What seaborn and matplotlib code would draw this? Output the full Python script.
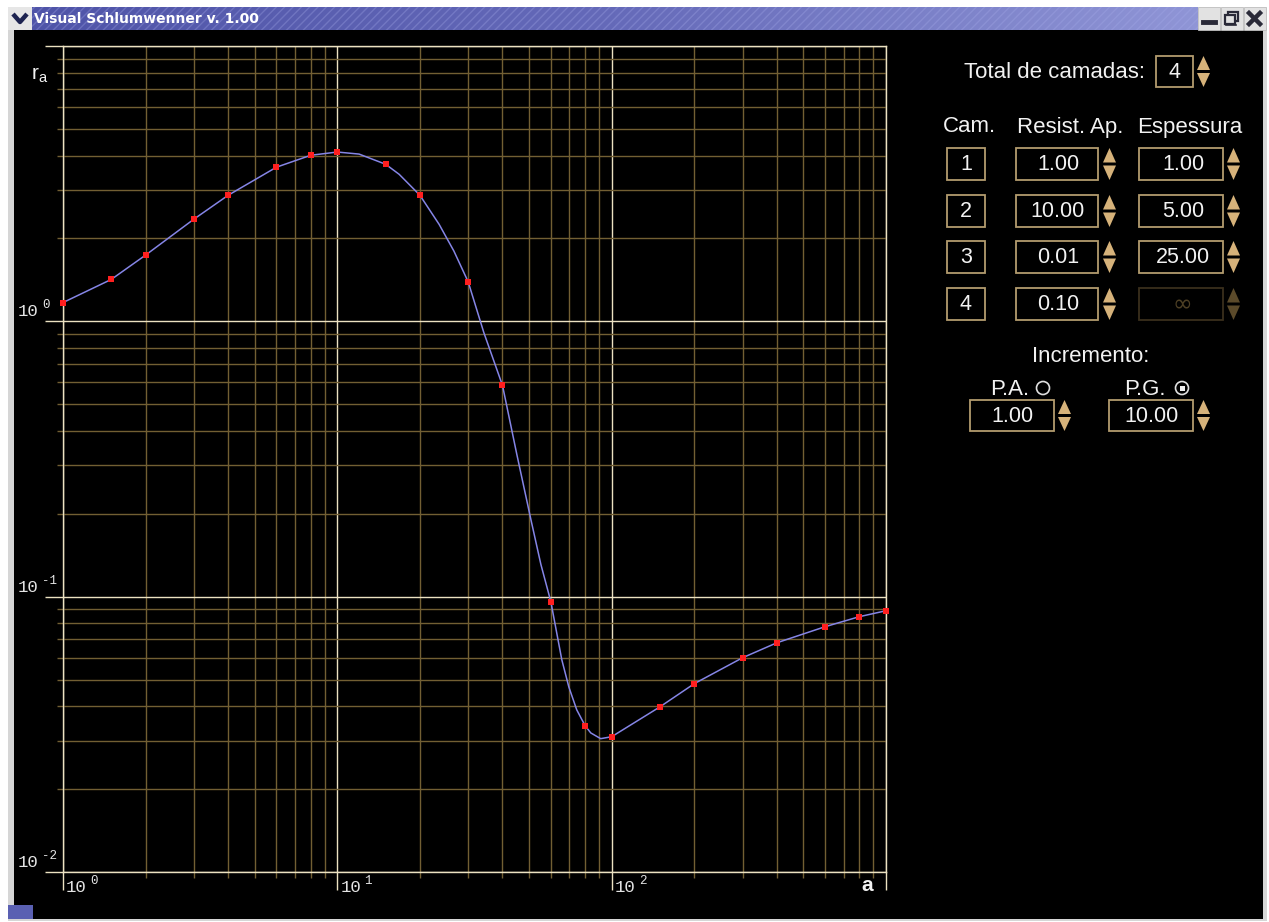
import numpy as np
import matplotlib
matplotlib.use("Agg")
import matplotlib.pyplot as plt
import seaborn as sns
from matplotlib.patches import Rectangle, Polygon, Circle
from matplotlib.ticker import LogLocator, NullFormatter
from matplotlib.colors import LinearSegmentedColormap

# ---------------- data ----------------
a_points = [1, 1.5, 2, 3, 4, 6, 8, 10, 15, 20, 30, 40, 60, 80, 100,
            150, 200, 300, 400, 600, 800, 1000]
ra_points = [1.17, 1.42, 1.74, 2.35, 2.87, 3.63, 4.01, 4.12, 3.72, 2.87,
             1.39, 0.585, 0.096, 0.034, 0.031, 0.0398, 0.0483, 0.060,
             0.068, 0.0778, 0.0846, 0.0889]

curve_a = [1, 1.5, 2, 3, 4, 6, 8, 10, 12.0, 15, 16.8, 20, 23.5, 26.6, 30,
           34.2, 40, 45.1, 50.8, 55.2, 60, 65.8, 69.8, 74.6, 80, 83.9, 91.2,
           100, 150, 200, 300, 400, 600, 800, 1000]
curve_ra = [1.17, 1.42, 1.74, 2.35, 2.87, 3.63, 4.01, 4.12, 4.05, 3.72, 3.42,
            2.87, 2.25, 1.80, 1.39, 0.91, 0.585, 0.329, 0.19, 0.131, 0.096,
            0.059, 0.047, 0.0388, 0.034, 0.032, 0.0305, 0.031, 0.0398,
            0.0483, 0.060, 0.068, 0.0778, 0.0846, 0.0889]

x_tick_values = [1, 10, 100]
x_tick_exps = ["0", "1", "2"]
y_tick_values = [1, 0.1, 0.01]
y_tick_exps = ["0", "-1", "-2"]
tick_base = "10"

window_title = "Visual Schlumwenner v. 1.00"
total_label = "Total de camadas:"
total_layers = "4"
headers = ["Cam.", "Resist. Ap.", "Espessura"]
layers = ["1", "2", "3", "4"]
resist = ["1.00", "10.00", "0.01", "0.10"]
espessura = ["1.00", "5.00", "25.00", "\u221e"]
inc_label = "Incremento:"
inc_pa_label = "P.A."
inc_pg_label = "P.G."
inc_pa = "1.00"
inc_pg = "10.00"

# ---------------- colours ----------------
MAJOR = "#ece2c2"
MINOR = "#725f33"
CURVE = "#8585e6"
POINT = "#ff1f1f"
BOX_EDGE = "#b39c6e"
SPIN = "#d6b27a"
DIM_EDGE = "#3a2f1c"
DIM_SPIN = "#5b4a2a"
TXT = "#f2f2f2"
TICKTXT = "#e4e4e4"
MONO = "Liberation Mono"

W, H = 1269, 922
fig = plt.figure(figsize=(W / 100, H / 100), dpi=100, facecolor="white")

# background / window chrome axes in pixel coordinates (origin top-left)
bg = fig.add_axes([0, 0, 1, 1])
bg.set_xlim(0, W)
bg.set_ylim(H, 0)
bg.axis("off")
bg.set_zorder(0)

bg.add_patch(Rectangle((8, 28), 1259, 893, fc="#d6d6d6", ec="none"))
bg.add_patch(Rectangle((14, 30), 1249, 889, fc="black", ec="none"))
bg.add_patch(Rectangle((8, 905), 25, 14, fc="#5a60b2", ec="none"))

# title bar gradient
cmap = LinearSegmentedColormap.from_list("tb", ["#4f54a8", "#656ab9", "#8f95d6"])
grad = np.linspace(0, 1, 256).reshape(1, -1)
bg.imshow(grad, extent=[32, 1198, 30, 7], cmap=cmap, aspect="auto", zorder=1)
bg.add_patch(Rectangle((32, 7), 1166, 23, fc="none", ec="#a7acea", lw=0,
                       hatch="////", alpha=0.3, zorder=2))
bg.set_xlim(0, W)
bg.set_ylim(H, 0)
bg.text(34, 19, window_title, color="white", fontsize=10, fontweight="bold",
        family="DejaVu Sans", ha="left", va="center", zorder=3)

# icon box (chevron)
bg.add_patch(Rectangle((8, 7), 24, 23, fc="#e6e6e6", ec="none", zorder=2))
bg.plot([13, 20, 27], [14, 22, 14], color="#1d2350", lw=3.2,
        solid_capstyle="butt", zorder=3)

# right buttons
for bx in (1198, 1221, 1244):
    bg.add_patch(Rectangle((bx, 7), 22, 23, fc="#e2e2e2", ec="#bdbdbd",
                           lw=0.6, zorder=2))
bg.plot([1203, 1215], [22, 22], color="#2a2a38", lw=3.5, zorder=3)
bg.add_patch(Rectangle((1228, 12), 10, 9, fc="none", ec="#2a2a38", lw=1.6, zorder=3))
bg.add_patch(Rectangle((1225, 15), 10, 9, fc="#e2e2e2", ec="#2a2a38", lw=1.6, zorder=4))
bg.plot([1226, 1236], [25, 25], color="#2a2a38", lw=1.2, zorder=4)
bg.plot([1249, 1260], [13, 24], color="#2a2a38", lw=3.2, zorder=3)
bg.plot([1249, 1260], [24, 13], color="#2a2a38", lw=3.2, zorder=3)

# ---------------- chart ----------------
ax = fig.add_axes([63 / W, (H - 872) / H, (886 - 63) / W, (872 - 46) / H])
ax.set_zorder(2)
ax.set_facecolor("black")
ax.set_xscale("log")
ax.set_yscale("log")
ax.set_xlim(1, 1000)
ax.set_ylim(0.01, 10)
ax.xaxis.set_minor_locator(LogLocator(base=10, subs=range(2, 10), numticks=20))
ax.yaxis.set_minor_locator(LogLocator(base=10, subs=range(2, 10), numticks=20))
ax.xaxis.set_minor_formatter(NullFormatter())
ax.yaxis.set_minor_formatter(NullFormatter())
ax.grid(True, which="minor", color=MINOR, lw=1)
ax.grid(True, which="major", color=MAJOR, lw=1)
ax.set_axisbelow(True)
ax.tick_params(which="major", direction="out", length=13, width=1, color=MAJOR,
               labelleft=False, labelbottom=False)
ax.tick_params(which="minor", direction="out", length=4, width=1, color=MINOR)
for sp in ax.spines.values():
    sp.set_color(MAJOR)
    sp.set_linewidth(1)

sns.lineplot(x=curve_a, y=curve_ra, ax=ax, color=CURVE, lw=1.1,
             estimator=None, sort=False, zorder=3)
sns.scatterplot(x=a_points, y=ra_points, ax=ax, color=POINT, marker="s",
                s=20, linewidth=0, zorder=4, clip_on=False)
ax.set_xlabel("")
ax.set_ylabel("")

# tick labels: "10" with a raised exponent, monospace
for v, e in zip(x_tick_values, x_tick_exps):
    ax.annotate(tick_base, xy=(v, 0), xycoords=("data", "axes fraction"),
                xytext=(3, -20), textcoords="offset pixels", ha="left",
                va="baseline", color=TICKTXT, fontsize=12.5, family=MONO,
                annotation_clip=False)
    ax.annotate(e, xy=(v, 0), xycoords=("data", "axes fraction"),
                xytext=(27, -12), textcoords="offset pixels", ha="left",
                va="baseline", color=TICKTXT, fontsize=9, family=MONO,
                annotation_clip=False)
for v, e in zip(y_tick_values, y_tick_exps):
    ax.annotate(tick_base, xy=(18, v), xycoords=("figure pixels", "data"),
                xytext=(0, 5), textcoords="offset pixels", ha="left",
                va="baseline", color=TICKTXT, fontsize=12.5, family=MONO,
                annotation_clip=False)
    ax.annotate(e, xy=(18, v), xycoords=("figure pixels", "data"),
                xytext=(24, 13), textcoords="offset pixels", ha="left",
                va="baseline", color=TICKTXT, fontsize=9, family=MONO,
                annotation_clip=False)

bg.text(31, 80, r"$\mathregular{r_a}$", color=TXT, fontsize=15,
        ha="left", va="baseline", family="Liberation Sans")
bg.text(867, 891, "a", color=TXT, fontsize=15, fontweight="bold",
        ha="center", va="baseline", family="Liberation Sans")

# ---------------- right control panel ----------------
PF = "Liberation Sans"


def box(x0, y0, x1, y1, ec=BOX_EDGE):
    bg.add_patch(Rectangle((x0, y0), x1 - x0, y1 - y0, fc="black", ec=ec,
                           lw=1.3, zorder=2))


def spinner(x0, y0, y1, color=SPIN):
    w = 13
    mid = (y0 + y1) / 2
    bg.add_patch(Polygon([(x0, mid - 1.5), (x0 + w, mid - 1.5), (x0 + w / 2, y0)],
                         closed=True, fc=color, ec="none", zorder=2))
    bg.add_patch(Polygon([(x0, mid + 1.5), (x0 + w, mid + 1.5), (x0 + w / 2, y1)],
                         closed=True, fc=color, ec="none", zorder=2))


bg.text(1055, 72, total_label, color=TXT, fontsize=16, family=PF,
        ha="center", va="center")
box(1156, 56, 1193, 87)
bg.text(1174.5, 72, total_layers, color=TXT, fontsize=15.5, family=PF,
        ha="center", va="center")
spinner(1197, 56, 87)

for cx, htxt in zip((969, 1070, 1190), headers):
    bg.text(cx, 127, htxt, color=TXT, fontsize=16, family=PF,
            ha="center", va="center")

row_tops = [148, 195, 241, 288]
for i, top in enumerate(row_tops):
    bot = top + 32
    cy = (top + bot) / 2
    box(947, top, 985, bot)
    bg.text(966, cy, layers[i], color=TXT, fontsize=15.5, family=PF,
            ha="center", va="center")
    box(1016, top, 1098, bot)
    bg.text(1058, cy, resist[i], color=TXT, fontsize=15.5, family=PF,
            ha="center", va="center")
    spinner(1103, top, bot)
    disabled = espessura[i] == "\u221e"
    box(1139, top, 1223, bot, ec=DIM_EDGE if disabled else BOX_EDGE)
    bg.text(1182 if disabled else 1183, cy, espessura[i],
            color="#4d3f24" if disabled else TXT,
            fontsize=17 if disabled else 15.5,
            family="DejaVu Sans" if disabled else PF,
            ha="center", va="center")
    spinner(1227, top, bot, color=DIM_SPIN if disabled else SPIN)

bg.text(1091, 356, inc_label, color=TXT, fontsize=16, family=PF,
        ha="center", va="center")
bg.text(1010, 389, inc_pa_label, color=TXT, fontsize=16, family=PF,
        ha="center", va="center")
bg.text(1145, 389, inc_pg_label, color=TXT, fontsize=16, family=PF,
        ha="center", va="center")
bg.add_patch(Circle((1043, 388), 6.5, fc="none", ec="#e0e0e0", lw=1.2, zorder=2))
bg.add_patch(Circle((1182, 388), 6.5, fc="none", ec="#e0e0e0", lw=1.2, zorder=2))
bg.add_patch(Rectangle((1179.5, 385.5), 5, 5, fc="#f0f0f0", ec="none", zorder=3))

box(970, 400, 1054, 431)
bg.text(1012, 416, inc_pa, color=TXT, fontsize=15.5, family=PF,
        ha="center", va="center")
spinner(1058, 400, 431)
box(1109, 400, 1193, 431)
bg.text(1151, 416, inc_pg, color=TXT, fontsize=15.5, family=PF,
        ha="center", va="center")
spinner(1197, 400, 431)

fig.savefig("out.png", dpi=100, facecolor=fig.get_facecolor())
